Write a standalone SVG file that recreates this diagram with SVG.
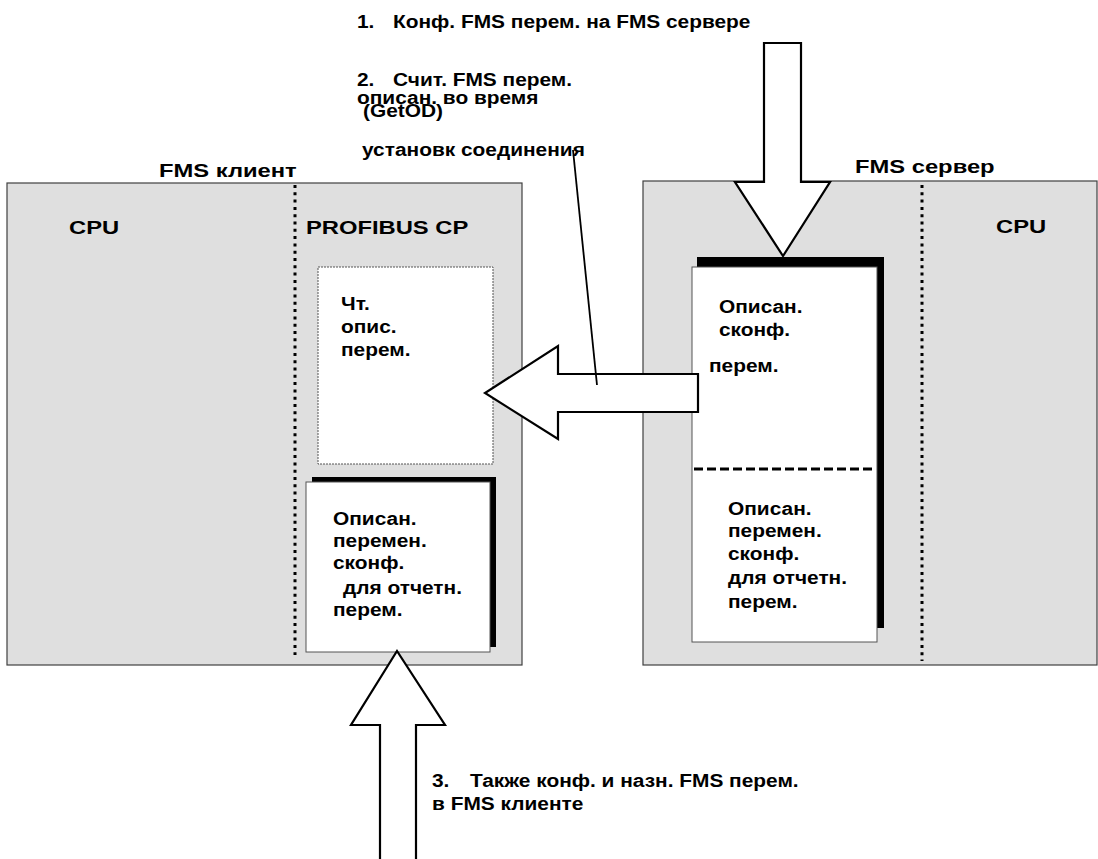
<svg xmlns="http://www.w3.org/2000/svg" width="1098" height="859" viewBox="0 0 1098 859">
<style>
text{font-family:"Liberation Sans",Arial,sans-serif;font-weight:bold;fill:#000}
.lbl{font-size:19px}
.t{font-size:18px}
.box{fill:#dfdfdf;stroke:#404040;stroke-width:1.2}
.dots{stroke:#000;stroke-width:3;stroke-dasharray:3 4.3;fill:none}
.doc{fill:#fff;stroke:#555;stroke-width:1}
.shadow{fill:#000}
.bigarrow{fill:#fff;stroke:#000;stroke-width:2.2;stroke-linejoin:miter}
</style>
<rect width="1098" height="859" fill="#fff"/>

<g id="client">
<rect class="box" x="7" y="183" width="515" height="482"/>
<line class="dots" x1="295" y1="185" x2="295" y2="655"/>
<text class="lbl" transform="translate(159 177) scale(1.25 1)">FMS клиент</text>
<text class="lbl" transform="translate(69 234) scale(1.25 1)">CPU</text>
<text class="lbl" transform="translate(306 234) scale(1.25 1)">PROFIBUS CP</text>
</g>

<g id="server">
<rect class="box" x="643" y="181" width="454" height="484"/>
<line class="dots" x1="922" y1="185" x2="922" y2="661"/>
<text class="lbl" transform="translate(855 173) scale(1.25 1)">FMS сервер</text>
<text class="lbl" transform="translate(996 233) scale(1.25 1)">CPU</text>
</g>

<g id="client-read">
<rect x="318" y="267" width="175" height="197" fill="#fff" stroke="#555" stroke-width="1" stroke-dasharray="2 1"/>
<text class="t" transform="translate(341 0) scale(1.16 1)"><tspan x="0" y="310">Чт.</tspan><tspan x="0" y="333">опис.</tspan><tspan x="0" y="356">перем.</tspan></text>
</g>

<g id="client-doc">
<rect class="shadow" x="312" y="477" width="184" height="170"/>
<rect class="doc" x="306" y="482" width="184" height="170"/>
<text class="t" transform="translate(333 0) scale(1.16 1)"><tspan x="0" y="525">Описан.</tspan><tspan x="0" y="547">перемен.</tspan><tspan x="0" y="569">сконф.</tspan><tspan x="8.6" y="594">для отчетн.</tspan><tspan x="0" y="616">перем.</tspan></text>
</g>

<g id="server-doc">
<rect class="shadow" x="697" y="257" width="187" height="371"/>
<rect class="doc" x="692" y="267" width="185" height="375"/>
<line x1="694" y1="469" x2="875" y2="469" stroke="#000" stroke-width="3" stroke-dasharray="9 4"/>
<text class="t" transform="translate(709 0) scale(1.16 1)"><tspan x="8.6" y="313">Описан.</tspan><tspan x="8.6" y="336">сконф.</tspan><tspan x="0" y="372">перем.</tspan></text>
<text class="t" transform="translate(728 0) scale(1.16 1)"><tspan x="0" y="515">Описан.</tspan><tspan x="0" y="537">перемен.</tspan><tspan x="0" y="560">сконф.</tspan><tspan x="0" y="584">для отчетн.</tspan><tspan x="0" y="608">перем.</tspan></text>
</g>

<g id="connectors">
<polygon class="bigarrow" points="764,43 801,43 801,182 830,182 783,256 735,182 764,182"/>
<polygon class="bigarrow" points="698,374 698,412 558,412 558,439 485,393 558,346 558,374"/>
<line x1="573" y1="150" x2="597" y2="385" stroke="#000" stroke-width="1.8"/>
<polyline class="bigarrow" points="380,862 380,725 351,725 397,651 445,725 416,725 416,862"/>
</g>

<g id="notes">
<text class="t" transform="translate(357 28) scale(1.16 1)">1.</text>
<text class="t" transform="translate(393 28) scale(1.16 1)">Конф. FMS перем. на FMS сервере</text>
<text class="t" transform="translate(357 86) scale(1.16 1)">2.</text>
<text class="t" transform="translate(393 86) scale(1.16 1)">Счит. FMS перем.</text>
<text class="t" transform="translate(357 104) scale(1.16 1)">описан. во время</text>
<text class="t" transform="translate(363 117) scale(1.16 1)">(GetOD)</text>
<text class="t" transform="translate(362 156) scale(1.16 1)">установк соединения</text>
<text class="t" transform="translate(432 787) scale(1.16 1)">3.</text>
<text class="t" transform="translate(470 787) scale(1.16 1)">Также конф. и назн. FMS перем.</text>
<text class="t" transform="translate(432 810) scale(1.16 1)">в FMS клиенте</text>
</g>
</svg>
